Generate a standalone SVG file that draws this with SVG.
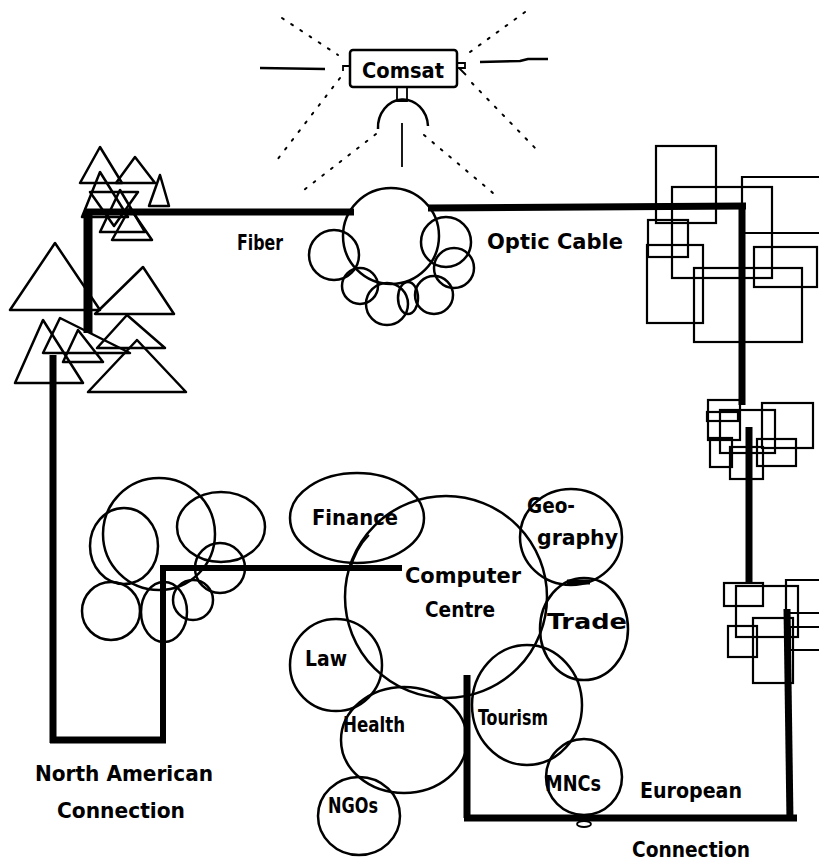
<svg xmlns="http://www.w3.org/2000/svg" width="819" height="861" viewBox="0 0 819 861">
<style>
.s{fill:none;stroke:#000;stroke-width:2.5;stroke-linejoin:round}
.t{fill:none;stroke:#000;stroke-width:1.8}
.r{fill:none;stroke:#000;stroke-width:2.2}
.dot{fill:none;stroke:#000;stroke-width:2;stroke-dasharray:2 9;stroke-linecap:round}
.c{fill:none;stroke:#000;stroke-width:7;stroke-linecap:butt}
text{font-family:"DejaVu Sans Condensed","DejaVu Sans",sans-serif;font-weight:bold;font-size:21px;fill:#000}
</style>
<rect width="819" height="861" fill="#fff"/>

<g id="comsat">
  <line class="dot" x1="282" y1="18" x2="338" y2="55"/>
  <line class="dot" x1="340" y1="78" x2="277" y2="160"/>
  <line class="dot" x1="376" y1="134" x2="300" y2="193"/>
  <line class="dot" x1="470" y1="52" x2="532" y2="7"/>
  <line class="dot" x1="472" y1="83" x2="537" y2="150"/>
  <line class="dot" x1="424" y1="135" x2="493" y2="193"/>
  <line class="s" x1="260" y1="68" x2="325" y2="69"/>
  <path class="s" d="M480,62 L520,61 L528,59 L548,59"/>
  <rect class="s" x="350" y="50" width="107" height="37" rx="3"/>
  <path class="t" d="M350,66 L343,66 L343,71"/>
  <path class="t" d="M457,63 H465 V68 H457 M459,68 L466,75"/>
  <path class="t" d="M397,87 V101 H407 V87"/>
  <path class="s" d="M378,129 A25 28 0 0 1 428,126"/>
  <line class="t" x1="402" y1="123" x2="402" y2="167"/>
  <text x="362" y="78" textLength="82" lengthAdjust="spacingAndGlyphs">Comsat</text>
</g>

<g id="hub-cloud">
  <circle class="s" cx="391" cy="236" r="48"/>
  <circle class="s" cx="334" cy="255" r="25"/>
  <circle class="s" cx="360" cy="286" r="18"/>
  <circle class="s" cx="387" cy="304" r="21"/>
  <ellipse class="s" cx="408" cy="298" rx="10" ry="16"/>
  <circle class="s" cx="434" cy="295" r="19"/>
  <circle class="s" cx="446" cy="242" r="25"/>
  <circle class="s" cx="454" cy="268" r="20"/>
</g>

<g id="north-america-triangles">
  <polygon class="s" points="100,147 80,183 122,183"/>
  <polygon class="s" points="135,157 116,183 155,183"/>
  <polygon class="s" points="160,175 149,206 169,206"/>
  <polygon class="s" points="100,172 82,217 128,217"/>
  <polygon class="s" points="90,192 138,192 114,226"/>
  <polygon class="s" points="120,190 100,232 145,232"/>
  <polygon class="s" points="130,208 112,240 152,240"/>
  <polygon class="s" points="55,243 10,310 100,310"/>
  <polygon class="s" points="143,267 95,314 174,314"/>
  <polygon class="s" points="43,320 15,383 83,383"/>
  <polygon class="s" points="127,315 97,348 165,348"/>
  <polygon class="s" points="78,330 63,362 103,362"/>
  <polygon class="s" points="137,340 88,392 186,392"/>
  <polygon class="s" points="60,318 43,353 130,353"/>
</g>

<g id="europe-boxes-top">
  <rect class="r" x="656" y="146" width="60" height="77"/>
  <rect class="r" x="672" y="187" width="100" height="91"/>
  <path class="r" d="M742,233 V177 H819 M742,233 H819"/>
  <rect class="r" x="648" y="220" width="40" height="37"/>
  <rect class="r" x="647" y="245" width="56" height="78"/>
  <rect class="r" x="694" y="268" width="108" height="74"/>
  <rect class="r" x="754" y="247" width="63" height="40"/>
</g>

<g id="europe-boxes-middle">
  <rect class="r" x="708" y="400" width="32" height="40"/>
  <rect class="r" x="707" y="412" width="31" height="9"/>
  <rect class="r" x="710" y="438" width="22" height="29"/>
  <rect class="r" x="720" y="410" width="55" height="43"/>
  <rect class="r" x="762" y="403" width="51" height="45"/>
  <rect class="r" x="730" y="447" width="33" height="32"/>
  <rect class="r" x="757" y="439" width="39" height="27"/>
</g>

<g id="europe-boxes-bottom">
  <rect class="r" x="724" y="583" width="39" height="23"/>
  <rect class="r" x="736" y="586" width="62" height="51"/>
  <path class="r" d="M819,580 H786 V613 H819"/>
  <rect class="r" x="728" y="626" width="29" height="31"/>
  <rect class="r" x="753" y="618" width="40" height="65"/>
  <path class="r" d="M819,627 H790 V650 H819"/>
</g>

<g id="north-america-circles">
  <circle class="s" cx="159" cy="534" r="56"/>
  <ellipse class="s" cx="124" cy="546" rx="34" ry="38"/>
  <ellipse class="s" cx="221" cy="527" rx="44" ry="35"/>
  <circle class="s" cx="220" cy="568" r="25"/>
  <ellipse class="s" cx="111" cy="611" rx="29" ry="29"/>
  <ellipse class="s" cx="164" cy="612" rx="23" ry="30"/>
  <circle class="s" cx="193" cy="600" r="20"/>
</g>

<g id="connectors">
  <line class="c" x1="84" y1="212" x2="354" y2="212"/>
  <line class="c" x1="428" y1="208" x2="746" y2="206"/>
  <line class="c" x1="742" y1="204" x2="742" y2="405"/>
  <line class="c" x1="749" y1="427" x2="749" y2="583"/>
  <line class="c" x1="787" y1="609" x2="790" y2="821"/>
  <line class="c" x1="464" y1="818" x2="797" y2="818"/>
  <line class="c" x1="467" y1="675" x2="467" y2="818"/>
  <line class="c" x1="88" y1="212" x2="88" y2="333" style="stroke-width:9"/>
  <line class="c" x1="53" y1="355" x2="53" y2="743"/>
  <line class="c" x1="50" y1="740" x2="166" y2="740"/>
  <line class="c" x1="163" y1="566" x2="163" y2="743" style="stroke-width:6"/>
  <line class="c" x1="160" y1="568" x2="402" y2="568" style="stroke-width:6"/>
  <ellipse class="t" cx="584" cy="824" rx="7" ry="3"/>
</g>

<g id="computer-centre">
  <circle class="s" cx="446" cy="597" r="101"/>
  <text x="405" y="583" textLength="116" lengthAdjust="spacingAndGlyphs">Computer</text>
  <text x="425" y="617" textLength="70" lengthAdjust="spacingAndGlyphs">Centre</text>
</g>

<g id="finance">
  <ellipse class="s" cx="357" cy="518" rx="67" ry="45"/>
  <path class="t" d="M369,535 Q356,548 350,570"/>
  <text x="312" y="525" textLength="86" lengthAdjust="spacingAndGlyphs">Finance</text>
</g>

<g id="geography">
  <ellipse class="s" cx="571" cy="537" rx="51" ry="48"/>
  <line x1="567" y1="582" x2="590" y2="582" stroke="#000" stroke-width="5"/>
  <text x="527" y="513" textLength="48" lengthAdjust="spacingAndGlyphs">Geo-</text>
  <text x="537" y="545" textLength="81" lengthAdjust="spacingAndGlyphs">graphy</text>
</g>

<g id="trade">
  <ellipse class="s" cx="584" cy="629" rx="44" ry="51"/>
  <text x="547" y="629" textLength="80" lengthAdjust="spacingAndGlyphs">Trade</text>
</g>

<g id="law">
  <circle class="s" cx="336" cy="665" r="46"/>
  <text x="305" y="666" textLength="42" lengthAdjust="spacingAndGlyphs">Law</text>
</g>

<g id="health">
  <ellipse class="s" cx="404" cy="740" rx="63" ry="53"/>
  <text x="343" y="732" textLength="62" lengthAdjust="spacingAndGlyphs">Health</text>
</g>

<g id="tourism">
  <ellipse class="s" cx="527" cy="705" rx="55" ry="60"/>
  <text x="478" y="725" textLength="70" lengthAdjust="spacingAndGlyphs">Tourism</text>
</g>

<g id="ngos">
  <ellipse class="s" cx="359" cy="816" rx="41" ry="39"/>
  <text x="328" y="813" textLength="50" lengthAdjust="spacingAndGlyphs">NGOs</text>
</g>

<g id="mncs">
  <ellipse class="s" cx="584" cy="777" rx="38" ry="38"/>
  <text x="545" y="791" textLength="56" lengthAdjust="spacingAndGlyphs">MNCs</text>
</g>

<g id="labels">
  <text x="237" y="250" textLength="46" lengthAdjust="spacingAndGlyphs">Fiber</text>
  <text x="487" y="249" textLength="136" lengthAdjust="spacingAndGlyphs">Optic Cable</text>
  <text x="35" y="781" textLength="178" lengthAdjust="spacingAndGlyphs">North American</text>
  <text x="57" y="818" textLength="128" lengthAdjust="spacingAndGlyphs">Connection</text>
  <text x="640" y="798" textLength="102" lengthAdjust="spacingAndGlyphs">European</text>
  <text x="632" y="857" textLength="118" lengthAdjust="spacingAndGlyphs">Connection</text>
</g>
</svg>
